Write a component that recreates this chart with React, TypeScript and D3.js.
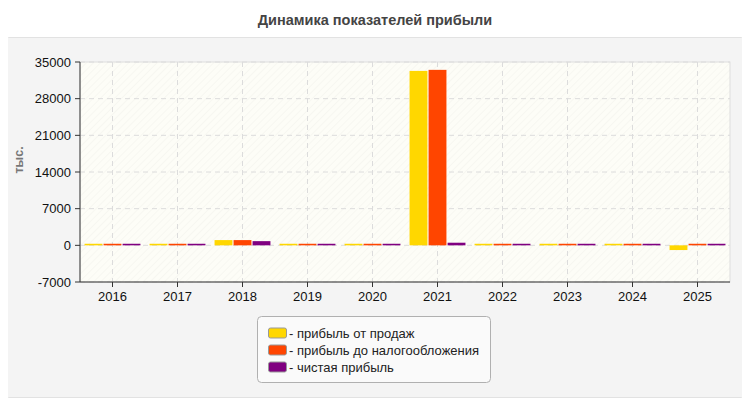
import React from 'react';
import * as d3 from 'd3';

const years = ['2016', '2017', '2018', '2019', '2020', '2021', '2022', '2023', '2024', '2025'];
const seriesNames = ['прибыль от продаж', 'прибыль до налогообложения', 'чистая прибыль'];
const salesProfit = [300, 300, 1000, 300, 300, 33300, 300, 300, 300, -900];
const pretaxProfit = [300, 300, 1000, 300, 300, 33500, 300, 300, 300, 300];
const netProfit = [300, 300, 800, 300, 300, 500, 300, 300, 300, 300];
const yTicks = [-7000, 0, 7000, 14000, 21000, 28000, 35000];
const colours = ['#ffd700', '#ff4500', '#800080'];

const W = 750;
const H = 400;
const margin = { left: 80, right: 20, top: 62, bottom: 118 };

const App: React.FC = () => {
  const series = [salesProfit, pretaxProfit, netProfit];

  const x = d3.scaleBand<string>()
    .domain(years)
    .range([margin.left, W - margin.right])
    .paddingInner(0.14)
    .paddingOuter(0.07);

  const xSub = d3.scaleBand<number>()
    .domain([0, 1, 2])
    .range([0, x.bandwidth()])
    .paddingInner(0.06);

  const y = d3.scaleLinear()
    .domain([-7000, 35000])
    .range([H - margin.bottom, margin.top]);

  const plotL = margin.left;
  const plotR = W - margin.right;
  const plotT = margin.top;
  const plotB = H - margin.bottom;
  const step = (plotR - plotL) / years.length;

  return (
    <svg width={W} height={H} style={{ display: 'block', margin: '-8px 0 0 -8px', fontFamily: '"Liberation Sans", Arial, sans-serif' }}>
      <defs>
        <pattern id="hatch" width="5" height="5" patternUnits="userSpaceOnUse" patternTransform="rotate(45)">
          <rect width="5" height="5" fill="#fdfdf7" />
          <line x1="0" y1="0" x2="0" y2="5" stroke="#f1f1ec" strokeWidth="1" />
        </pattern>
      </defs>
      <rect width={W} height={H} fill="#ffffff" />
      <text x={W / 2} y={25} textAnchor="middle" fontSize={14.5} fontWeight="bold" fill="#444">
        Динамика показателей прибыли
      </text>
      <rect x={2.5} y={37.5} width={745} height={360} rx={6} fill="#f4f4f4" stroke="#e2e2e2" />

      {/* plot area */}
      <rect x={plotL} y={plotT} width={plotR - plotL} height={plotB - plotT} fill="url(#hatch)" stroke="#dddddd" />

      {/* grid */}
      {yTicks.map(t => (
        <line key={'gy' + t} x1={plotL} x2={plotR} y1={y(t)} y2={y(t)} stroke="#dcdcdc" strokeDasharray="5,4" />
      ))}
      {years.map((yr, i) => (
        <line key={'gx' + yr} x1={plotL + step * (i + 0.5)} x2={plotL + step * (i + 0.5)} y1={plotT} y2={plotB} stroke="#dcdcdc" strokeDasharray="5,4" />
      ))}

      {/* bars */}
      {series.map((vals, s) => vals.map((v, i) => {
        const bx = (x(years[i]) ?? 0) + (xSub(s) ?? 0);
        const top = y(Math.max(0, v));
        const h = Math.abs(y(v) - y(0));
        return <rect key={`b${s}-${i}`} x={bx} y={top} width={xSub.bandwidth()} height={Math.max(h, 1)} fill={colours[s]} />;
      }))}

      {/* axes */}
      <line x1={plotL} x2={plotL} y1={plotT} y2={plotB} stroke="#333" />
      <line x1={plotL} x2={plotR} y1={plotB} y2={plotB} stroke="#333" />
      {yTicks.map(t => (
        <g key={'ty' + t}>
          <line x1={plotL - 5} x2={plotL} y1={y(t)} y2={y(t)} stroke="#333" />
          <text x={plotL - 9} y={y(t)} dy="0.35em" textAnchor="end" fontSize={13} fill="#111">{t}</text>
        </g>
      ))}
      {years.map((yr, i) => (
        <g key={'tx' + yr}>
          <line x1={plotL + step * (i + 0.5)} x2={plotL + step * (i + 0.5)} y1={plotB} y2={plotB + 5} stroke="#333" />
          <text x={plotL + step * (i + 0.5)} y={plotB + 19} textAnchor="middle" fontSize={13} fill="#111">{yr}</text>
        </g>
      ))}
      <text transform={`translate(23,${(plotT + plotB) / 2 - 12}) rotate(-90)`} textAnchor="middle" fontSize={12.5} fontWeight="bold" fill="#777">
        тыс.
      </text>

      {/* legend */}
      <rect x={257.5} y={316.5} width={233} height={66} rx={4} fill="#fafafa" stroke="#b0b0b0" />
      {seriesNames.map((name, i) => (
        <g key={'lg' + i} transform={`translate(268,${333 + i * 17})`}>
          <rect x={0.5} y={-5} width={18} height={10} rx={2} fill={colours[i]} stroke="#999" />
          <text x={21} y={0} dy="0.35em" fontSize={13} fill="#222">- {name}</text>
        </g>
      ))}
    </svg>
  );
};

export default App;
